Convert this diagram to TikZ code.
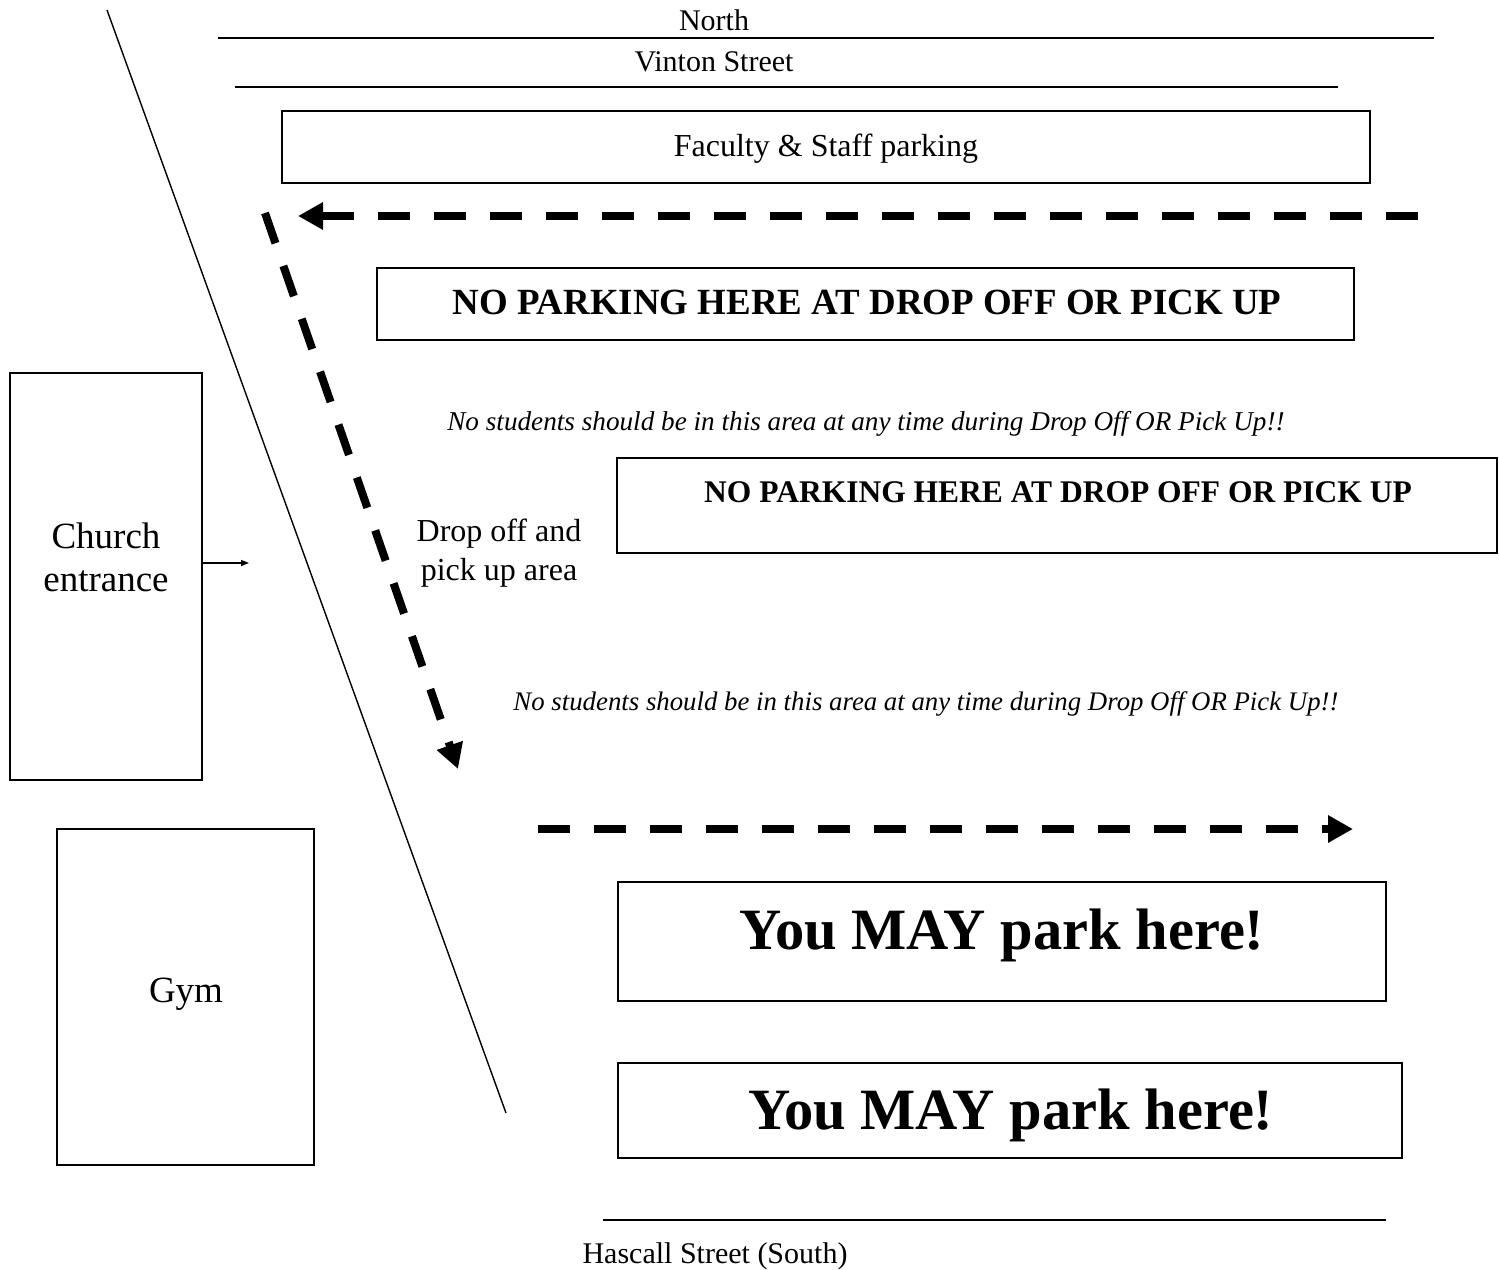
\documentclass[tikz,border=0pt]{standalone}
\usepackage{fontspec}
\setmainfont{Liberation Serif}
\usetikzlibrary{arrows.meta}
\newcommand{\fsz}[1]{\fontsize{#1}{#1}\selectfont}
\begin{document}
\begin{tikzpicture}[x=1pt,y=-1pt,
  box/.style={draw, line width=2pt, inner sep=0pt},
  road/.style={line width=2pt},
  thin/.style={line width=1.4pt},
  bigarrow/.style={line width=8pt, dash pattern=on 32pt off 24pt, -{Triangle[length=25pt,width=26pt]}},
  txt/.style={inner sep=0pt, align=center},
  street/.style={txt, font=\fsz{30}},
  npbig/.style={txt, font=\bfseries\fsz{36.9}},
  npsmall/.style={txt, font=\bfseries\fsz{31.5}},
  warn/.style={txt, font=\itshape\fsz{27.2}},
  may/.style={txt, font=\bfseries\fsz{58.5}}]
\useasboundingbox (0,0) rectangle (1499,1269);
\fill[white] (0,0) rectangle (1499,1269);

% streets
\coordinate (nl1) at (218,38); \coordinate (nl2) at (1434,38);
\coordinate (vl1) at (235,87); \coordinate (vl2) at (1338,87);
\coordinate (hl1) at (603,1220); \coordinate (hl2) at (1386,1220);
\draw[road] (nl1) -- (nl2);
\draw[road] (vl1) -- (vl2);
\draw[road] (hl1) -- (hl2);
\node[street] (north) at (714,20) {North};
\node[street] (vinton) at (714,62) {Vinton Street};
\node[street] (hascall) at (715,1256) {Hascall Street (South)};

% diagonal
\coordinate (d1) at (107,10); \coordinate (d2) at (506,1113);
\draw[thin] (d1) -- (d2);

% boxes
\node[box, minimum width=1088pt, minimum height=72pt] (fac) at (826,147) {};
\node[txt, font=\fsz{32}] (factext) at (826,149) {Faculty \& Staff parking};

\node[box, minimum width=977pt, minimum height=72pt] (np1) at (865.5,304) {};
\node[npbig] (np1text) at (867,302) {NO PARKING HERE AT DROP OFF OR PICK UP};

\node[box, minimum width=880pt, minimum height=95pt] (np2) at (1057,505.5) {};
\node[npsmall] (np2text) at (1058,492) {NO PARKING HERE AT DROP OFF OR PICK UP};

\node[box, minimum width=768pt, minimum height=119pt] (ym1) at (1002,941.5) {};
\node[may] (ym1text) at (1002,935) {You MAY park here!};

\node[box, minimum width=784pt, minimum height=95pt] (ym2) at (1010,1110.5) {};
\node[may] (ym2text) at (1011,1115) {You MAY park here!};

\node[box, minimum width=192pt, minimum height=407pt] (church) at (106,576.5) {};
\node[txt, font=\fontsize{37}{43}\selectfont] (churchtext) at (106,557) {Church\\entrance};

\node[box, minimum width=257pt, minimum height=336pt] (gym) at (185.5,997) {};
\node[txt, font=\fsz{37}] (gymtext) at (186,994) {Gym};

% labels
\node[warn] (w1) at (866,424) {No students should be in this area at any time during Drop Off OR Pick Up!!};
\node[warn, font=\itshape\fsz{26.8}] (w2) at (926,704) {No students should be in this area at any time during Drop Off OR Pick Up!!};
\node[txt, font=\fontsize{32}{39}\selectfont] (drop) at (499,553) {Drop off and\\pick up area};

% church arrow
\coordinate (ca) at (249,563);
\draw[thin, -{Triangle[length=8pt,width=6pt]}] (church.east |- ca) -- (ca);

% big dashed arrows
\coordinate (a1s) at (1418,216); \coordinate (a1e) at (298,216);
\coordinate (a2s) at (265,213); \coordinate (a2e) at (458,769);
\coordinate (a3s) at (538,829); \coordinate (a3e) at (1353,829);
\draw[bigarrow] (a1s) -- (a1e);
\draw[bigarrow] (a2s) -- (a2e);
\draw[bigarrow] (a3s) -- (a3e);
\end{tikzpicture}
\end{document}
